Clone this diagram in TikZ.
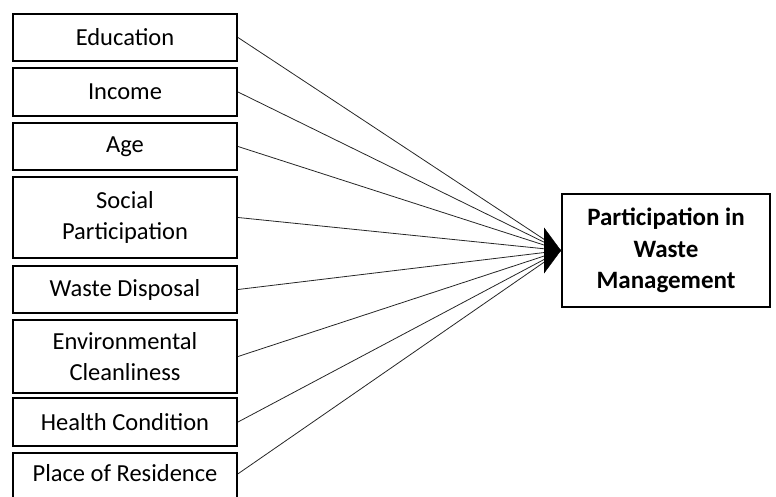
\documentclass[tikz,border=0pt]{standalone}
\usepackage{fontspec}
\setmainfont{Carlito}
\usetikzlibrary{positioning,arrows.meta}

\begin{document}
\begin{tikzpicture}[
	x=1pt,y=1pt,
	node distance=5pt,
	factor/.style={
		rectangle,
		draw,
		line width=1.6pt,
		minimum width=224.4pt,
		minimum height=47.4pt,
		align=center,
		inner sep=2pt,
		font=\fontsize{24.5}{31}\selectfont,
		},
	result/.style={
		factor,
		minimum width=208.4pt,
		minimum height=113.4pt,
		font=\fontsize{25}{31.5}\selectfont\bfseries,
		},
	link/.style={line width=0.8pt, draw=black!85},
	]

	\clip (0,0) rectangle (776,-497);

	\node(edu)[factor] at (125,-37.5){Education};
	\node(inc)[factor, below=of edu, minimum height=48.4pt]{Income};
	\node(age)[factor, below=of inc]{Age};
	\node(soc)[factor, below=of age, minimum height=81.4pt]{Social\\Participation};
	\node(waste)[factor, below=6pt of soc]{Waste Disposal};
	\node(env)[factor, below=of waste, minimum height=73.4pt]{Environmental\\Cleanliness};
	\node(health)[factor, below=3pt of env, minimum height=48.4pt]{Health Condition};
	\node(place)[factor, below=of health, minimum height=50pt, text depth=9pt]{Place of Residence};
	\node(res)[result] at (666,-250.5){Participation in\\Waste\\Management};

	\path (edu.east) edge[link] (res.west);
	\path (inc.east) edge[link] (res.west);
	\path (age.east) edge[link] (res.west);
	\path (soc.east) edge[link] (res.west);
	\path (waste.east) edge[link] (res.west);
	\path (env.east) edge[link] (res.west);
	\path (health.east) edge[link] (res.west);
	\path ([yshift=4pt]place.east) edge[link] (res.west);

	\coordinate(hub) at ([xshift=-17pt]res.west);
	\draw[-{Triangle[length=17pt,width=46pt]}] (hub) -- (res.west);

\end{tikzpicture}
\end{document}
